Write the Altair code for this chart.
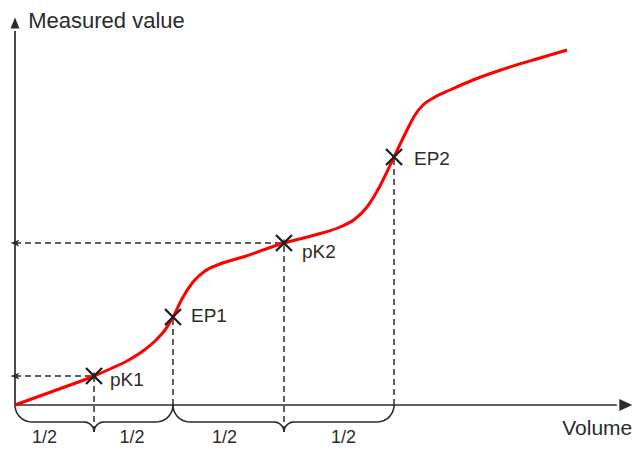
import altair as alt
import pandas as pd
import numpy as np

# ---------------- data ----------------
# titration curve: volume (arbitrary units) vs measured value (arbitrary units)
curve_volume = [0.0, 6.67, 13.17, 15.83, 18.67, 21.33, 23.67, 25.0, 26.33, 28.0, 29.67,
                31.67, 34.17, 38.0, 44.83, 50.0, 54.17, 56.67, 58.67, 60.83, 63.17, 65.17,
                66.67, 68.0, 70.0, 72.5, 76.33, 82.0, 87.5, 92.0]
curve_value = [0.0, 3.63, 7.25, 9.0, 11.0, 13.5, 16.5, 18.75, 22.0, 27.0, 30.75,
               33.5, 35.25, 37.0, 40.5, 42.5, 44.5, 46.5, 49.5, 54.75, 62.0, 68.25,
               72.5, 75.0, 77.0, 78.75, 81.25, 84.25, 86.75, 88.75]

# characteristic points
pt_names = ["pK1", "EP1", "pK2", "EP2"]
pt_volume = [13.17, 26.33, 44.83, 63.17]
pt_value = [7.25, 22.0, 40.5, 62.0]
pt_dx = [16, 18, 18, 20]
pt_dy = [10, 5, 15, 8]

# half-volume labels under the braces
half_labels = ["1/2", "1/2", "1/2", "1/2"]
half_volume = [4.9, 19.5, 34.9, 54.75]
half_value = [-10.5, -10.5, -10.5, -10.5]

# axis extents / titles
x_end = 101.8
y_top = 95.5
axis_titles = ["Measured value", "Volume"]
title_volume = [2.2, 91.2]
title_value = [94.25, -7.5]
title_sizes = [22, 21]

# ---------------- geometry / scales ----------------
W, H = 626, 440
X_DOMAIN = [-7 / 6, 103.1667]
Y_DOMAIN = [-10.75, 99.25]
PXV = W / (X_DOMAIN[1] - X_DOMAIN[0])
PXM = H / (Y_DOMAIN[1] - Y_DOMAIN[0])

xs = alt.Scale(domain=X_DOMAIN, nice=False, zero=False)
ys = alt.Scale(domain=Y_DOMAIN, nice=False, zero=False)
X = lambda f="v": alt.X(f"{f}:Q", scale=xs, axis=None)
Y = lambda f="m": alt.Y(f"{f}:Q", scale=ys, axis=None)

DARK = "#2b2b2b"
FONT = "Liberation Sans"

curve_df = pd.DataFrame({"v": curve_volume, "m": curve_value})
pts_df = pd.DataFrame({"name": pt_names, "v": pt_volume, "m": pt_value,
                       "dx": pt_dx, "dy": pt_dy})


# braces below the volume axis (shape built from the segment ends)
def brace(a, b, tip, bid, R=17.0, r=10.0):
    ax, bx, tx = a * PXV, b * PXV, tip * PXV
    pts = []
    for t in np.linspace(np.pi, np.pi / 2, 12):
        pts.append((ax + R + R * np.cos(t), R * np.sin(t)))
    for t in np.linspace(-np.pi / 2, 0, 10):
        pts.append((tx - r + r * np.cos(t), R + r + r * np.sin(t)))
    for t in np.linspace(np.pi, 1.5 * np.pi, 10):
        pts.append((tx + r + r * np.cos(t), R + r + r * np.sin(t)))
    for t in np.linspace(np.pi / 2, 0, 12):
        pts.append((bx - R + R * np.cos(t), R * np.sin(t)))
    return pd.DataFrame({"v": [p[0] / PXV for p in pts],
                         "m": [-p[1] / PXM for p in pts],
                         "o": list(range(len(pts))), "b": bid})


braces_df = pd.concat([brace(0.0, pt_volume[1], pt_volume[0], 0),
                       brace(pt_volume[1], pt_volume[3], pt_volume[2], 1)])

# ---------------- layers ----------------
axes_df = pd.DataFrame({"v": [0.0, 0.0], "m": [0.0, 0.0],
                        "v2": [0.0, x_end - 1.5], "m2": [y_top - 2.0, 0.0]})
axes = alt.Chart(axes_df).mark_rule(color=DARK, strokeWidth=1.7).encode(
    x=X(), y=Y(), x2="v2:Q", y2="m2:Q")

up_tri = "M0,-1L0.82,1L-0.82,1Z"
right_tri = "M1,0L-1,0.92L-1,-0.92Z"
arrow_y = alt.Chart(pd.DataFrame({"v": [0.0], "m": [y_top]})).mark_point(
    shape=up_tri, size=121, filled=True, color=DARK, opacity=1, dy=5.5).encode(x=X(), y=Y())
arrow_x = alt.Chart(pd.DataFrame({"v": [x_end], "m": [0.0]})).mark_point(
    shape=right_tri, size=169, filled=True, color=DARK, opacity=1, dx=-6.5).encode(x=X(), y=Y())

curve = alt.Chart(curve_df).mark_line(
    color="#ff0000", strokeWidth=3, interpolate="monotone").encode(x=X(), y=Y())

# dashed guides
pk_df = pts_df[pts_df["name"].str.startswith("pK")].copy()
ep_df = pts_df[pts_df["name"].str.startswith("EP")].copy()
pk_df["zero"] = 0.0
pk_df["tipm"] = -27.0 / PXM
ep_df["zero"] = 0.0

dash = dict(color=DARK, strokeWidth=1.5, strokeDash=[6, 4])
h_guides = alt.Chart(pk_df).mark_rule(**dash).encode(
    x=alt.X("zero:Q", scale=xs, axis=None), x2="v:Q", y=Y())
v_guides_pk = alt.Chart(pk_df).mark_rule(**dash).encode(
    x=X(), y=alt.Y("tipm:Q", scale=ys, axis=None), y2="m:Q")
v_guides_ep = alt.Chart(ep_df).mark_rule(**dash).encode(
    x=X(), y=alt.Y("zero:Q", scale=ys, axis=None), y2="m:Q")

left_barb = "M-1,0L1,-0.75L0.45,0L1,0.75Z"
up_barb = "M0,-1L0.75,1L0,0.45L-0.75,1Z"
barbs_h = alt.Chart(pk_df).mark_point(
    shape=left_barb, size=81, filled=True, color=DARK, opacity=1, dx=6).encode(
    x=alt.X("zero:Q", scale=xs, axis=None), y=Y())
barbs_v = alt.Chart(pk_df).mark_point(
    shape=up_barb, size=81, filled=True, color=DARK, opacity=1, dy=6).encode(x=X(), y=Y())

braces = alt.Chart(braces_df).mark_line(color=DARK, strokeWidth=1.6).encode(
    x=X(), y=Y(), detail="b:N", order="o:Q")

crosses = alt.Chart(pts_df).mark_point(
    shape="M-1,-1L1,1M-1,1L1,-1", size=256, filled=False, color="#1e1e1e",
    strokeWidth=2.3, opacity=1).encode(x=X(), y=Y())

pt_labels = [
    alt.Chart(pts_df.iloc[[i]]).mark_text(
        align="left", baseline="alphabetic", font=FONT, fontSize=19, color=DARK,
        dx=int(pt_dx[i]), dy=int(pt_dy[i])).encode(x=X(), y=Y(), text="name:N")
    for i in range(len(pt_names))
]

halves = alt.Chart(pd.DataFrame({"t": half_labels, "v": half_volume, "m": half_value})).mark_text(
    align="center", baseline="bottom", font=FONT, fontSize=18, color=DARK).encode(
    x=X(), y=Y(), text="t:N")

titles = [
    alt.Chart(pd.DataFrame({"t": [axis_titles[i]], "v": [title_volume[i]],
                            "m": [title_value[i]]})).mark_text(
        align="left", baseline="alphabetic", font=FONT, fontSize=title_sizes[i],
        color=DARK).encode(x=X(), y=Y(), text="t:N")
    for i in range(len(axis_titles))
]

chart = alt.layer(
    h_guides, v_guides_pk, v_guides_ep, barbs_h, barbs_v, braces, axes, arrow_y, arrow_x,
    curve, crosses, *pt_labels, halves, *titles
).properties(
    width=W, height=H, padding=0, autosize=alt.AutoSizeParams(type="none"),
    background="white"
).configure_view(stroke=None)

chart.save("out.html", embed_options={"renderer": "svg", "actions": False})
